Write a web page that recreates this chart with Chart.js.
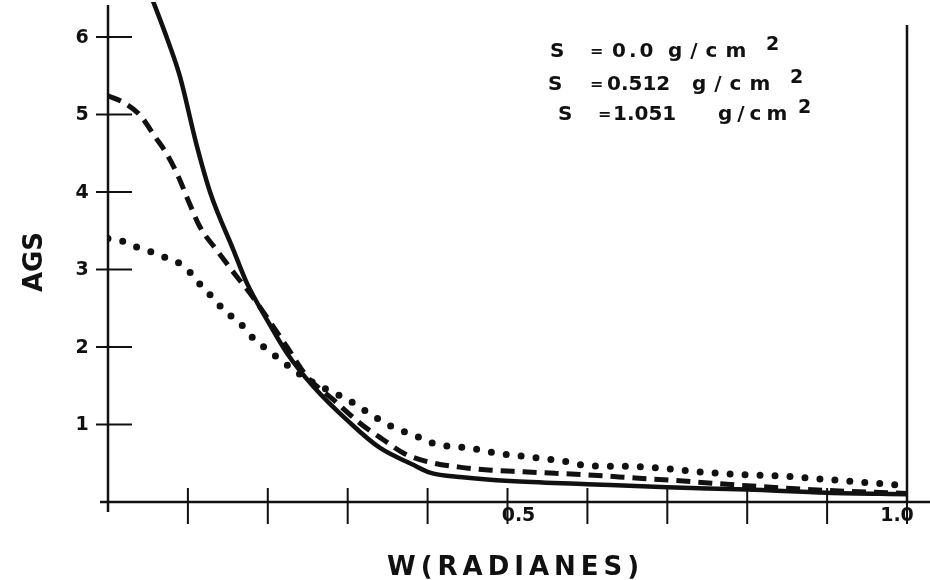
<!DOCTYPE html>
<html>
<head>
<meta charset="utf-8">
<script src="https://cdn.jsdelivr.net/npm/chart.js@4.4.1/dist/chart.umd.min.js"></script>
<style>
  html, body { margin: 0; padding: 0; background: #fff; }
  #wrap { position: relative; width: 930px; height: 580px; overflow: hidden; }
  .txt {
    position: absolute;
    font-family: 'DejaVu Sans', sans-serif;
    font-weight: bold;
    color: #111;
    white-space: nowrap;
    line-height: 1;
  }
</style>
</head>
<body>
<div id="wrap">
  <canvas id="chart" width="930" height="580"></canvas>
</div>
<script>
// W (radianes) and Ags, one pair per curve
const wS0 = [0.045, 0.059, 0.075, 0.09, 0.111, 0.128, 0.157, 0.174, 0.199, 0.224, 0.257, 0.303, 0.34, 0.382, 0.403, 0.444, 0.503, 0.6, 0.7, 0.8, 0.9, 1.0];
const agsS0 = [6.75, 6.39, 5.95, 5.49, 4.6, 3.99, 3.25, 2.82, 2.35, 1.92, 1.49, 1.02, 0.70, 0.48, 0.38, 0.32, 0.27, 0.23, 0.19, 0.16, 0.12, 0.10];

const wS512 = [0, 0.02, 0.04, 0.059, 0.073, 0.088, 0.1, 0.115, 0.136, 0.161, 0.178, 0.199, 0.224, 0.249, 0.282, 0.315, 0.345, 0.37, 0.4, 0.44, 0.48, 0.52, 0.56, 0.6, 0.66, 0.72, 0.8, 0.9, 1.0];
const agsS512 = [5.24, 5.15, 4.99, 4.71, 4.50, 4.20, 3.90, 3.55, 3.25, 2.91, 2.69, 2.38, 2.0, 1.62, 1.32, 1.02, 0.80, 0.63, 0.52, 0.45, 0.41, 0.39, 0.37, 0.35, 0.31, 0.27, 0.21, 0.15, 0.11];

const wS1051 = [0, 0.02, 0.036, 0.053, 0.067, 0.086, 0.103, 0.119, 0.134, 0.146, 0.163, 0.182, 0.2, 0.22, 0.25, 0.28, 0.3, 0.32, 0.337, 0.36, 0.384, 0.403, 0.426, 0.45, 0.487, 0.528, 0.568, 0.6, 0.65, 0.7, 0.75, 0.8, 0.85, 0.9, 0.95, 1.0];
const agsS1051 = [3.40, 3.36, 3.29, 3.23, 3.17, 3.10, 2.96, 2.76, 2.61, 2.46, 2.33, 2.11, 1.96, 1.80, 1.58, 1.42, 1.32, 1.19, 1.08, 0.95, 0.86, 0.77, 0.72, 0.70, 0.63, 0.58, 0.53, 0.47, 0.46, 0.43, 0.38, 0.35, 0.33, 0.29, 0.25, 0.21];

const yTicks = [1, 2, 3, 4, 5, 6];
const xTicks = [0.1, 0.2, 0.3, 0.4, 0.5, 0.6, 0.7, 0.8, 0.9, 1.0];
const xTickLabels = ["0.5", "1.0"];
const xLabelValues = [0.5, 1.0];

const legendRows = [
  { s: "S", eq: "=", val: "0.0", unit: "g/cm" },
  { s: "S", eq: "=", val: "0.512", unit: "g/cm" },
  { s: "S", eq: "=", val: "1.051", unit: "g/cm" },
];

const INK = "#111";
const FONT = "'DejaVu Sans', sans-serif";

function pts(ws, vs) {
  return ws.map((w, i) => ({ x: w, y: vs[i] }));
}

// axes drawn by hand: crossing ticks like the original drawing
const handAxes = {
  id: "handAxes",
  beforeDatasetsDraw(chart) {
    const { ctx } = chart;
    const xs = chart.scales.x;
    const ys = chart.scales.y;
    const x0 = xs.getPixelForValue(0);
    const x1 = xs.getPixelForValue(1);
    const y0 = ys.getPixelForValue(0);
    const seg = (a, b, c, d) => {
      ctx.beginPath();
      ctx.moveTo(a, b);
      ctx.lineTo(c, d);
      ctx.stroke();
    };
    ctx.save();
    ctx.strokeStyle = INK;
    ctx.lineWidth = 2.5;
    seg(x0, 5, x0, 512);
    seg(100, y0, 930, y0);
    seg(x1, 25, x1, y0);
    ctx.lineWidth = 2;
    yTicks.forEach((v) => {
      const py = ys.getPixelForValue(v);
      seg(x0 - 12, py, x0 + 24, py);
    });
    xTicks.forEach((w) => {
      const px = xs.getPixelForValue(w);
      seg(px, y0 - 14, px, y0 + 22);
    });

    ctx.fillStyle = INK;
    ctx.font = "bold 19px " + FONT;
    ctx.textAlign = "center";
    ctx.textBaseline = "middle";
    yTicks.forEach((v) => {
      ctx.fillText(String(v), 82, ys.getPixelForValue(v) + 1);
    });
    const offs = [11, -10];
    xLabelValues.forEach((w, i) => {
      ctx.fillText(xTickLabels[i], xs.getPixelForValue(w) + offs[i], y0 + 14);
    });
    ctx.restore();
  },
};

new Chart(document.getElementById("chart"), {
  type: "line",
  data: {
    datasets: [
      {
        label: "S = 0.0 g/cm2",
        data: pts(wS0, agsS0),
        borderColor: INK,
        borderWidth: 4.5,
        pointRadius: 0,
        cubicInterpolationMode: "monotone",
      },
      {
        label: "S = 0.512 g/cm2",
        data: pts(wS512, agsS512),
        borderColor: INK,
        borderWidth: 5,
        borderDash: [14, 8],
        pointRadius: 0,
        cubicInterpolationMode: "monotone",
      },
      {
        label: "S = 1.051 g/cm2",
        data: pts(wS1051, agsS1051),
        borderColor: INK,
        borderWidth: 7,
        borderDash: [0, 15],
        borderCapStyle: "round",
        pointRadius: 0,
        cubicInterpolationMode: "monotone",
      },
    ],
  },
  options: {
    responsive: false,
    animation: false,
    devicePixelRatio: 1,
    layout: { padding: { left: 108, right: 23, top: 2, bottom: 78 } },
    scales: {
      x: { type: "linear", min: 0, max: 1, display: false },
      y: { type: "linear", min: 0, max: 6.45, display: false },
    },
    plugins: {
      legend: { display: false },
      tooltip: { enabled: false },
    },
  },
  plugins: [handAxes],
});

// text laid over the canvas
const wrap = document.getElementById("wrap");
function placeText(str, x, baseline, size, extra) {
  const d = document.createElement("div");
  d.className = "txt";
  d.textContent = str;
  d.style.fontSize = size + "px";
  d.style.left = x + "px";
  d.style.top = baseline - 0.846 * size + "px";
  if (extra) Object.assign(d.style, extra);
  wrap.appendChild(d);
  return d;
}

// legend rows (x positions per piece, baseline per row)
const rowLayout = [
  { sx: 550, ex: 590, vx: 612, ux: 668, ls: 8, tx: 766, base: 57 },
  { sx: 548, ex: 590, vx: 607, ux: 692, ls: 8, tx: 790, base: 90 },
  { sx: 558, ex: 598, vx: 613, ux: 718, ls: 5, tx: 798, base: 120 },
];
legendRows.forEach((r, i) => {
  const L = rowLayout[i];
  placeText(r.s, L.sx, L.base, 20);
  placeText(r.eq, L.ex, L.base, 16);
  placeText(r.val, L.vx, L.base, 20, { letterSpacing: i === 0 ? "3px" : "0px" });
  placeText(r.unit, L.ux, L.base, 20, { letterSpacing: L.ls + "px" });
  placeText("2", L.tx, L.base - 7, 19);
});

placeText("W(RADIANES)", 387, 575, 26, { letterSpacing: "5px" });

const yTitle = document.createElement("div");
yTitle.className = "txt";
yTitle.textContent = "AGS";
Object.assign(yTitle.style, {
  fontSize: "26px",
  width: "100px",
  height: "30px",
  lineHeight: "30px",
  textAlign: "center",
  left: 33 - 50 + "px",
  top: 262 - 15 + "px",
  transform: "rotate(-90deg)",
});
wrap.appendChild(yTitle);
</script>
</body>
</html>
